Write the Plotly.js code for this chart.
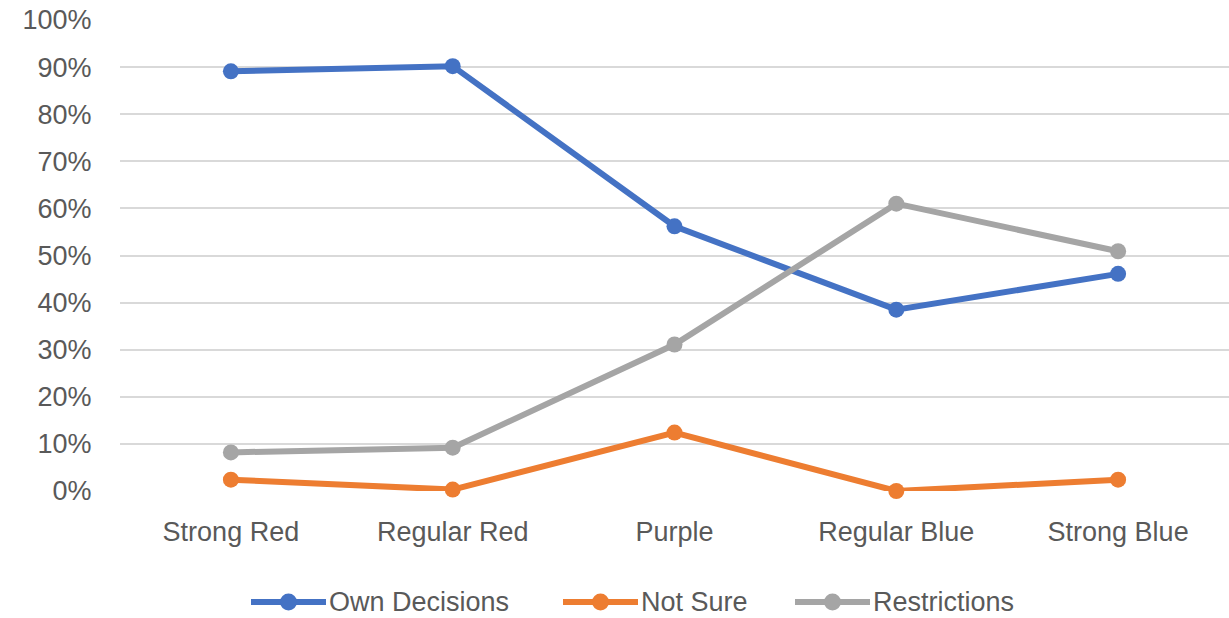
<!DOCTYPE html>
<html><head><meta charset="utf-8">
<script src="https://cdn.plot.ly/plotly-3.0.1.min.js"></script>
<style>html,body{margin:0;padding:0;background:#fff}#chart{width:1229px;height:618px}</style>
</head><body><div id="chart"></div>
<script>
const categories = ["Strong Red", "Regular Red", "Purple", "Regular Blue", "Strong Blue"];
const ownDecisions = [0.891, 0.902, 0.562, 0.385, 0.461];
const notSure = [0.024, 0.003, 0.124, 0.0, 0.024];
const restrictions = [0.082, 0.092, 0.311, 0.610, 0.509];
const seriesNames = ["Own Decisions", "Not Sure", "Restrictions"];
const seriesColors = ["#4472C4", "#ED7D31", "#A5A5A5"];
const yTickVals = [0, 0.1, 0.2, 0.3, 0.4, 0.5, 0.6, 0.7, 0.8, 0.9, 1.0];
const yTickText = ["0%", "10%", "20%", "30%", "40%", "50%", "60%", "70%", "80%", "90%", "100%"];

const FONT = '"Liberation Sans", Arial, sans-serif';
const W = 1229, H = 618;
const M = {l: 120, r: 0, t: 20, b: 127};
const seriesValues = [ownDecisions, notSure, restrictions];

const data = seriesNames.map((n, i) => ({
  x: categories, y: seriesValues[i], name: n, type: 'scatter', mode: 'lines+markers',
  line: {color: seriesColors[i], width: 6}, marker: {color: seriesColors[i], size: 16},
  cliponaxis: false, showlegend: false
}));

// manual legend (layout decoration in paper coordinates)
const pw = W - M.l - M.r, ph = H - M.t - M.b;
const px = v => (v - M.l) / pw;
const py = v => (H - M.b - v) / ph;
const legendStarts = [251, 563, 795];
const legendY = 602;
const shapes = [], annotations = [];
legendStarts.forEach((s, i) => {
  shapes.push({type: 'line', xref: 'paper', yref: 'paper', x0: px(s), x1: px(s + 75),
    y0: py(legendY), y1: py(legendY), line: {color: seriesColors[i], width: 6}});
  shapes.push({type: 'circle', xref: 'paper', yref: 'paper', x0: px(s + 29), x1: px(s + 46),
    y0: py(legendY - 8.5), y1: py(legendY + 8.5), fillcolor: seriesColors[i], line: {width: 0}});
  annotations.push({xref: 'paper', yref: 'paper', x: px(s + 77), y: py(legendY),
    xanchor: 'left', yanchor: 'middle', showarrow: false, text: seriesNames[i], borderpad: 0,
    font: {family: FONT, size: 27, color: '#595959'}});
});

const layout = {
  width: W, height: H, margin: M,
  paper_bgcolor: '#fff', plot_bgcolor: '#fff',
  font: {family: FONT, size: 27, color: '#595959'},
  showlegend: false, shapes: shapes, annotations: annotations,
  xaxis: {type: 'category', range: [-0.5, 4.5], showgrid: false, zeroline: false,
    showline: false, ticks: 'outside', ticklen: 17, tickcolor: 'rgba(0,0,0,0)',
    tickfont: {family: FONT, size: 27, color: '#595959'}, fixedrange: true, automargin: false},
  yaxis: {range: [0, 1], tickvals: yTickVals, ticktext: yTickText, showgrid: true,
    gridcolor: '#D9D9D9', gridwidth: 2, zeroline: false, showline: false,
    ticks: 'outside', ticklen: 22, tickcolor: 'rgba(0,0,0,0)',
    tickfont: {family: FONT, size: 27, color: '#595959'}, fixedrange: true, automargin: false}
};
Plotly.newPlot('chart', data, layout, {displayModeBar: false, staticPlot: true});
</script></body></html>
